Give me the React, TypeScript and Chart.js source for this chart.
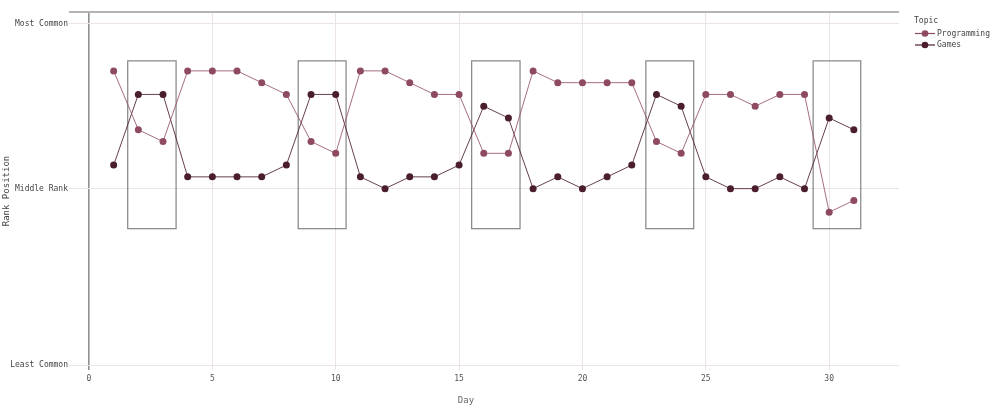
import React, { useEffect, useRef } from "react";
import { Chart, registerables } from "chart.js";

Chart.register(...registerables);

// ---- Data ----
const days = [
  1, 2, 3, 4, 5, 6, 7, 8, 9, 10, 11, 12, 13, 14, 15, 16, 17, 18, 19, 20, 21, 22, 23, 24, 25, 26, 27, 28, 29, 30, 31,
];
const programmingRank = [
  5, 10, 11, 5, 5, 5, 6, 7, 11, 12, 5, 5, 6, 7, 7, 12, 12, 5, 6, 6, 6, 6, 11, 12, 7, 7, 8, 7, 7, 17, 16,
];
const gamesRank = [
  13, 7, 7, 14, 14, 14, 14, 13, 7, 7, 14, 15, 14, 14, 13, 8, 9, 15, 14, 15, 14, 13, 7, 8, 14, 15, 15, 14, 15, 9, 10,
];
const seriesNames = ["Programming", "Games"];
const xTickValues = [0, 5, 10, 15, 20, 25, 30];
const yTickValues = [1, 15, 30];
const yTickLabels = ["Most Common", "Middle Rank", "Least Common"];
// highlighted windows (x in days, y in rank units)
const highlightStart = [1.57, 8.48, 15.51, 22.57, 29.35];
const highlightEnd = [3.53, 10.42, 17.47, 24.51, 31.28];
const highlightTop = 4.15;
const highlightBottom = 18.4;

const FONT = "'DejaVu Sans Mono', monospace";
const PROG_COLOR = "#8E4A60";
const GAMES_COLOR = "#4A1E2C";

export default function App() {
  const ref = useRef<HTMLCanvasElement>(null);

  useEffect(() => {
    document.body.style.margin = "0";
    const canvas = ref.current;
    if (!canvas) return;

    const overlay = {
      id: "overlay",
      beforeDatasetsDraw(chart: any) {
        const { ctx, scales } = chart;
        const xs = scales.x;
        const ys = scales.y;
        ctx.save();
        ctx.strokeStyle = "rgba(110,110,110,0.85)";
        ctx.lineWidth = 1.2;
        for (let i = 0; i < highlightStart.length; i++) {
          const x0 = xs.getPixelForValue(highlightStart[i]);
          const x1 = xs.getPixelForValue(highlightEnd[i]);
          const y0 = ys.getPixelForValue(highlightTop);
          const y1 = ys.getPixelForValue(highlightBottom);
          ctx.strokeRect(x0, y0, x1 - x0, y1 - y0);
        }
        ctx.restore();
      },
      afterDraw(chart: any) {
        const { ctx, chartArea } = chart;
        ctx.save();
        // top border line
        ctx.strokeStyle = "#b4b4b4";
        ctx.lineWidth = 2;
        ctx.beginPath();
        ctx.moveTo(chartArea.left, chartArea.top);
        ctx.lineTo(chartArea.right, chartArea.top);
        ctx.stroke();

        // x title
        ctx.fillStyle = "#666";
        ctx.font = `9px ${FONT}`;
        ctx.textAlign = "center";
        ctx.textBaseline = "middle";
        ctx.fillText("Day", 466, 401);

        // legend
        ctx.textAlign = "left";
        ctx.fillStyle = "#444";
        ctx.font = `8px ${FONT}`;
        ctx.fillText("Topic", 914, 21);
        const colors = [PROG_COLOR, GAMES_COLOR];
        const ys = [33.5, 45];
        for (let i = 0; i < seriesNames.length; i++) {
          ctx.strokeStyle = colors[i];
          ctx.lineWidth = 1.2;
          ctx.beginPath();
          ctx.moveTo(915, ys[i]);
          ctx.lineTo(935, ys[i]);
          ctx.stroke();
          ctx.fillStyle = colors[i];
          ctx.beginPath();
          ctx.arc(925, ys[i], 3.3, 0, Math.PI * 2);
          ctx.fill();
          ctx.fillStyle = "#444";
          ctx.fillText(seriesNames[i], 937, ys[i]);
        }
        ctx.restore();
      },
    };

    const chart = new Chart(canvas, {
      type: "line",
      data: {
        datasets: [
          {
            label: seriesNames[0],
            data: days.map((d, i) => ({ x: d, y: programmingRank[i] })),
            borderColor: "rgba(142,74,96,0.8)",
            backgroundColor: PROG_COLOR,
            pointBackgroundColor: PROG_COLOR,
            pointBorderWidth: 0,
            pointRadius: 3.5,
            borderWidth: 1,
            tension: 0,
          },
          {
            label: seriesNames[1],
            data: days.map((d, i) => ({ x: d, y: gamesRank[i] })),
            borderColor: "rgba(74,30,44,0.85)",
            backgroundColor: GAMES_COLOR,
            pointBackgroundColor: GAMES_COLOR,
            pointBorderWidth: 0,
            pointRadius: 3.5,
            borderWidth: 1,
            tension: 0,
          },
        ],
      },
      options: {
        animation: false,
        responsive: false,
        devicePixelRatio: 1,
        layout: { padding: { top: 12, right: 98, left: 0, bottom: 0 } },
        plugins: {
          legend: { display: false },
          tooltip: { enabled: false },
        },
        scales: {
          x: {
            type: "linear",
            min: -0.81,
            max: 32.83,
            afterBuildTicks: (s: any) => {
              s.ticks = xTickValues.map((v) => ({ value: v }));
            },
            afterFit: (s: any) => {
              s.height = 42;
            },
            grid: {
              drawTicks: false,
              color: (c: any) => (c.tick && c.tick.value === 0 ? "#8f8f8f" : "#ebe3e6"),
              lineWidth: (c: any) => (c.tick && c.tick.value === 0 ? 1.6 : 1),
            },
            border: { display: false },
            ticks: {
              padding: 4,
              maxRotation: 0,
              font: { family: FONT, size: 8 },
              color: "#555",
            },
          },
          y: {
            type: "linear",
            reverse: true,
            min: 0,
            max: 30.4,
            afterBuildTicks: (s: any) => {
              s.ticks = yTickValues.map((v) => ({ value: v }));
            },
            afterFit: (s: any) => {
              s.width = 69;
            },
            grid: { drawTicks: false, color: "#ebe3e6", lineWidth: 1 },
            border: { display: false },
            ticks: {
              padding: 1,
              font: { family: FONT, size: 8 },
              color: "#444",
              callback: (_v: any, i: number) => yTickLabels[i],
            },
            title: {
              display: true,
              text: "Rank Position",
              font: { family: FONT, size: 9 },
              color: "#444",
              padding: { top: 1, bottom: 0 },
            },
          },
        },
      },
      plugins: [overlay],
    });

    return () => chart.destroy();
  }, []);

  return (
    <div style={{ width: 997, height: 412 }}>
      <canvas ref={ref} width={997} height={412} style={{ display: "block" }} />
    </div>
  );
}
